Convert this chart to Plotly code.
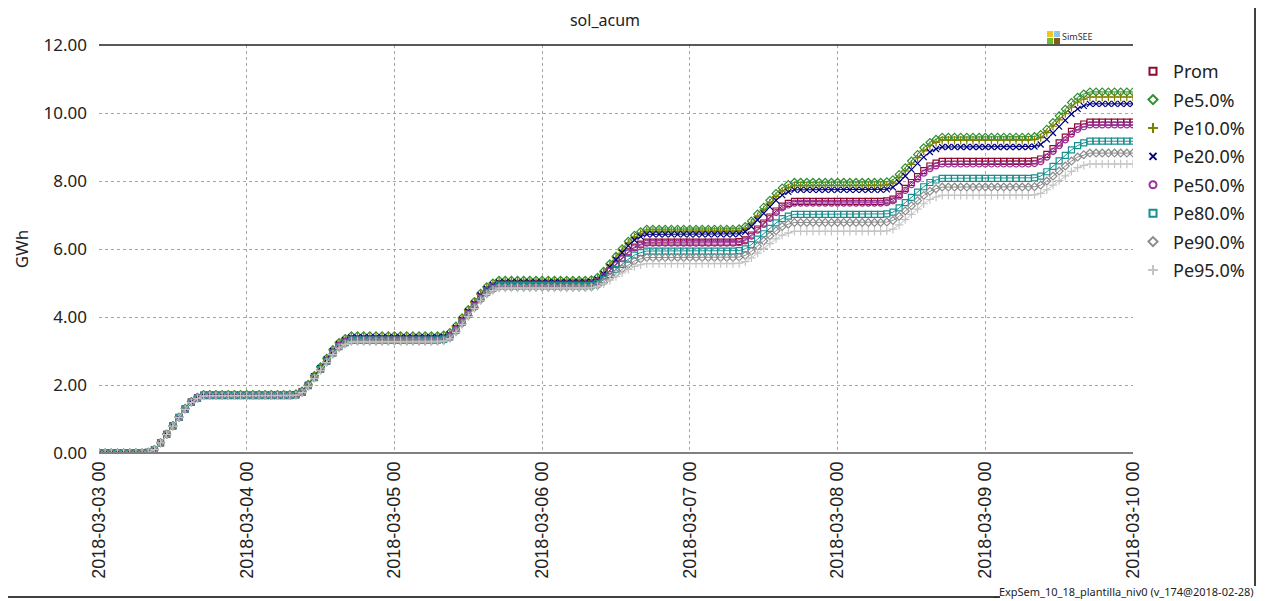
import numpy as np
import pandas as pd
import plotly.graph_objects as go

# hourly share of a day's solar energy
hour_share = [0, 0, 0, 0, 0, 0, 0, 0, 0.02, 0.08, 0.20, 0.25,
              0.25, 0.25, 0.25, 0.20, 0.12, 0.08, 0, 0, 0, 0, 0, 0]

# accumulated energy (GWh) at the end of each day, per series
day_ends = ['2018-03-03', '2018-03-04', '2018-03-05', '2018-03-06',
            '2018-03-07', '2018-03-08', '2018-03-09']
prom = [1.70, 3.36, 4.98, 6.20, 7.40, 8.58, 9.73]
pe5 = [1.72, 3.45, 5.08, 6.58, 7.96, 9.29, 10.62]
pe10 = [1.71, 3.42, 5.05, 6.52, 7.86, 9.20, 10.47]
pe20 = [1.70, 3.40, 5.02, 6.43, 7.74, 9.00, 10.27]
pe50 = [1.70, 3.36, 4.97, 6.17, 7.35, 8.50, 9.65]
pe80 = [1.69, 3.32, 4.92, 5.94, 7.02, 8.08, 9.17]
pe90 = [1.69, 3.30, 4.88, 5.75, 6.78, 7.82, 8.82]
pe95 = [1.68, 3.27, 4.85, 5.57, 6.52, 7.58, 8.50]

names = ['Prom', 'Pe5.0%', 'Pe10.0%', 'Pe20.0%', 'Pe50.0%', 'Pe80.0%', 'Pe90.0%', 'Pe95.0%']
series = [prom, pe5, pe10, pe20, pe50, pe80, pe90, pe95]
colors = ['#8b0a2e', '#2f8f2f', '#7f7f00', '#000080', '#9b2f9b', '#178f8f', '#8c8c8c', '#c4c4c4']
symbols = ['square-open', 'diamond-open', 'cross-thin-open', 'x-thin-open',
           'circle-open', 'square-open', 'diamond-open', 'cross-thin-open']

times = pd.date_range('2018-03-03 00:00', '2018-03-10 00:00', freq='h')
cum_share = np.cumsum(hour_share) / sum(hour_share)


def hourly(day_totals):
    vals = []
    prev = 0.0
    for tot in day_totals:
        vals.extend(prev + (tot - prev) * cum_share)
        prev = tot
    vals.append(prev)
    return vals


fig = go.Figure()
for name, vals, col, sym in zip(names, series, colors, symbols):
    fig.add_trace(go.Scatter(
        x=times, y=hourly(vals), name=name, mode='lines+markers', showlegend=False,
        line=dict(color=col, width=1),
        marker=dict(symbol=sym, size=6, color=col, line=dict(color=col, width=1.2)),
    ))
# legend entries: markers only, like the original
for name, col, sym in zip(names, colors, symbols):
    fig.add_trace(go.Scatter(
        x=[None], y=[None], name=name, mode='markers', legendgroup=name,
        marker=dict(symbol=sym, size=7, color=col, line=dict(color=col, width=2)),
    ))

# the page body has an 8px margin, so the figure is drawn 8px in from the corner
OFF = 8
W, H = 1268 - OFF, 601 - OFF
L, R, T, B = 99 - OFF, 1133 - OFF, 45 - OFF, 453 - OFF


def px(x):
    # screen x (reference pixels) -> paper x
    return (x - OFF - L) / (R - L)


def py(y):
    return (B - (y - OFF)) / (B - T)


shapes = [
    dict(type='line', xref='paper', yref='paper', x0=0, x1=1, y0=1, y1=1,
         line=dict(color='#222222', width=1.5)),
    dict(type='line', xref='paper', yref='paper', x0=0, x1=1, y0=0, y1=0,
         line=dict(color='#808080', width=2)),
    dict(type='line', xref='paper', yref='paper', x0=px(1255), x1=px(1255), y0=py(0), y1=py(586),
         line=dict(color='#000000', width=1.5)),
    dict(type='line', xref='paper', yref='paper', x0=px(0), x1=px(1000), y0=py(597), y1=py(597),
         line=dict(color='#000000', width=1.5)),
    # SimSEE logo squares
    dict(type='rect', xref='paper', yref='paper', x0=px(1047), x1=px(1053), y0=py(37), y1=py(31),
         fillcolor='#f2c318', line_width=0),
    dict(type='rect', xref='paper', yref='paper', x0=px(1054), x1=px(1060), y0=py(37), y1=py(31),
         fillcolor='#86c8f2', line_width=0),
    dict(type='rect', xref='paper', yref='paper', x0=px(1047), x1=px(1053), y0=py(44), y1=py(38),
         fillcolor='#6cbf2e', line_width=0),
    dict(type='rect', xref='paper', yref='paper', x0=px(1054), x1=px(1060), y0=py(44), y1=py(38),
         fillcolor='#8a5a14', line_width=0),
]

annotations = [
    dict(text='SimSEE', xref='paper', yref='paper', x=px(1060), y=py(45), xanchor='left',
         yanchor='bottom', showarrow=False, font=dict(family='Noto Sans', size=9, color='#333333')),
    dict(text='_ExpSem_10_18_plantilla_niv0 (v_174@2018-02-28)', xref='paper', yref='paper',
         x=px(1256), y=py(591), xanchor='right', yanchor='middle', showarrow=False,
         font=dict(family='Noto Sans', size=11, color='#222222')),
]

grid = dict(showgrid=True, gridcolor='#a6a6a6', griddash='3px,3px', gridwidth=1,
            showline=False, zeroline=False, ticks='')

fig.update_layout(
    width=W, height=H,
    margin=dict(l=L, r=W - R, t=T, b=H - B, autoexpand=False),
    paper_bgcolor='white', plot_bgcolor='white',
    title=dict(text='sol_acum', x=(605 - OFF) / W, xanchor='center', y=1 - (20 - OFF) / H,
               yanchor='middle', font=dict(family='Noto Sans', size=16, color='#222222')),
    xaxis=dict(
        range=['2018-03-03 00:00', '2018-03-10 00:00'], dtick=86400000,
        tick0='2018-03-03', tickformat='%Y-%m-%d %H', tickangle=-90,
        tickfont=dict(family='Liberation Sans', size=18, color='#222222'),
        ticklabelstandoff=4,
        **grid,
    ),
    yaxis=dict(
        range=[0, 12], dtick=2, tickformat='.2f',
        tickfont=dict(family='Noto Sans', size=17, color='#222222'),
        ticklabelstandoff=11,
        title=dict(text='GWh', font=dict(family='Noto Sans', size=17, color='#222222'), standoff=10),
        **grid,
    ),
    legend=dict(
        x=px(1133), xanchor='left', y=py(53), yanchor='top',
        font=dict(family='Noto Sans', size=18, color='#222222'),
        tracegroupgap=2, itemwidth=30,
    ),
    shapes=shapes,
    annotations=annotations,
)

fig.write_html('out.html')
